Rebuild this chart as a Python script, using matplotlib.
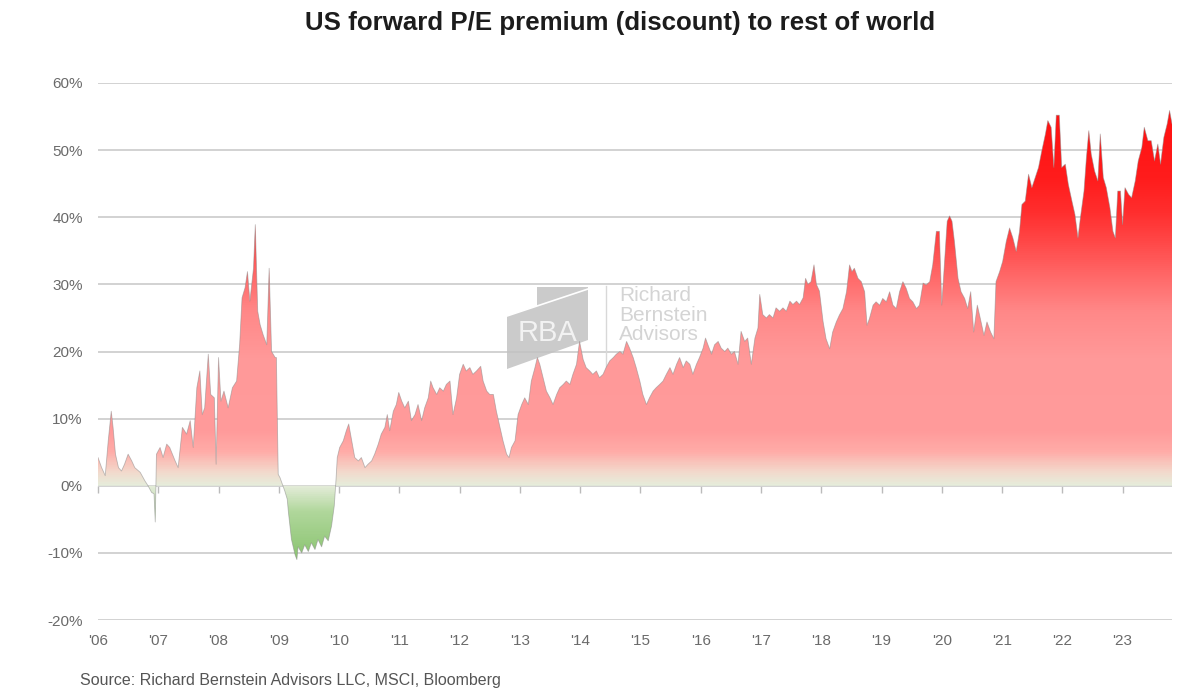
import matplotlib
matplotlib.use("Agg")
import matplotlib.pyplot as plt
import numpy as np
from matplotlib.colors import LinearSegmentedColormap, Normalize
from matplotlib.patches import PathPatch, Polygon

# ---------------- data ----------------
years = [
    2006.00, 2006.06, 2006.12, 2006.17, 2006.22, 2006.25, 2006.29, 2006.34, 2006.39, 2006.44,
    2006.50, 2006.56, 2006.61, 2006.70, 2006.78, 2006.83, 2006.89, 2006.93, 2006.95, 2006.97,
    2007.03, 2007.08, 2007.14, 2007.19, 2007.28, 2007.33, 2007.40, 2007.47, 2007.53, 2007.58,
    2007.64, 2007.69, 2007.73, 2007.77, 2007.83, 2007.87, 2007.93, 2007.96, 2008.00, 2008.04,
    2008.09, 2008.16, 2008.23, 2008.30, 2008.35, 2008.39, 2008.44, 2008.48, 2008.52, 2008.58,
    2008.61, 2008.65, 2008.69, 2008.74, 2008.80, 2008.84, 2008.88, 2008.94, 2008.96, 2008.99,
    2009.02, 2009.06, 2009.10, 2009.14, 2009.16, 2009.21, 2009.27, 2009.30, 2009.32, 2009.38,
    2009.43, 2009.49, 2009.54, 2009.60, 2009.65, 2009.71, 2009.76, 2009.82, 2009.875, 2009.92,
    2009.95, 2009.97,
    2010.01, 2010.07, 2010.12, 2010.16, 2010.21, 2010.26, 2010.32, 2010.37, 2010.43, 2010.48,
    2010.54, 2010.59, 2010.65, 2010.70, 2010.76, 2010.80, 2010.84, 2010.90, 2010.95, 2010.99,
    2011.04, 2011.09, 2011.15, 2011.20, 2011.26, 2011.31, 2011.37, 2011.42, 2011.48, 2011.52,
    2011.56, 2011.62, 2011.67, 2011.73, 2011.78, 2011.84, 2011.89, 2011.95, 2012.00, 2012.06,
    2012.11, 2012.17, 2012.22, 2012.28, 2012.35, 2012.39, 2012.45, 2012.50, 2012.56, 2012.61,
    2012.67, 2012.72, 2012.78, 2012.82, 2012.86, 2012.92, 2012.97, 2013.03, 2013.08, 2013.14,
    2013.19, 2013.25, 2013.29, 2013.33, 2013.385, 2013.44, 2013.50, 2013.55, 2013.61, 2013.66,
    2013.72, 2013.77, 2013.83, 2013.88, 2013.94, 2013.99, 2014.05,
    2014.10, 2014.16, 2014.21, 2014.27, 2014.32, 2014.38, 2014.43, 2014.49, 2014.55, 2014.60,
    2014.66, 2014.71, 2014.77, 2014.82, 2014.88, 2014.93, 2014.99, 2015.04, 2015.10, 2015.15,
    2015.21, 2015.26, 2015.32, 2015.375, 2015.43, 2015.49, 2015.54, 2015.60, 2015.65, 2015.71,
    2015.76, 2015.82, 2015.87, 2015.93, 2015.98, 2016.04, 2016.08, 2016.12, 2016.18, 2016.23,
    2016.29, 2016.34, 2016.40, 2016.45, 2016.51, 2016.56, 2016.62, 2016.67, 2016.73, 2016.78,
    2016.84, 2016.90, 2016.95, 2016.98, 2017.03, 2017.09, 2017.14, 2017.20, 2017.25, 2017.31,
    2017.365, 2017.42, 2017.48, 2017.53, 2017.59, 2017.64, 2017.70, 2017.74, 2017.78, 2017.83,
    2017.88, 2017.92, 2017.97, 2018.03,
    2018.08, 2018.14, 2018.19, 2018.25, 2018.30, 2018.36, 2018.42, 2018.47, 2018.51, 2018.55,
    2018.61, 2018.665, 2018.72, 2018.76, 2018.80, 2018.86, 2018.91, 2018.97, 2019.02, 2019.08,
    2019.135, 2019.19, 2019.245, 2019.30, 2019.355, 2019.41, 2019.465, 2019.52, 2019.58, 2019.63,
    2019.69, 2019.74, 2019.80, 2019.85, 2019.91, 2019.96, 2020.00, 2020.05, 2020.09, 2020.13,
    2020.17, 2020.21, 2020.27, 2020.32, 2020.38, 2020.43, 2020.48, 2020.53, 2020.59, 2020.64,
    2020.70, 2020.75, 2020.81, 2020.865, 2020.90, 2020.96, 2021.01, 2021.07, 2021.125, 2021.18,
    2021.235, 2021.29, 2021.33, 2021.385, 2021.44, 2021.495, 2021.55, 2021.605, 2021.66, 2021.72,
    2021.76, 2021.815, 2021.86, 2021.90, 2021.95, 2021.99, 2022.05, 2022.10, 2022.16, 2022.21,
    2022.26, 2022.30, 2022.36, 2022.40, 2022.44, 2022.48, 2022.535, 2022.59, 2022.63, 2022.68,
    2022.73, 2022.79, 2022.84, 2022.88, 2022.92, 2022.965, 2023.00, 2023.04, 2023.10, 2023.15,
    2023.21, 2023.26, 2023.32, 2023.36, 2023.42, 2023.475, 2023.53, 2023.585, 2023.63, 2023.685,
    2023.74, 2023.78, 2023.82,
]
premium = [
    4.2, 2.7, 1.5, 6.7, 11.1, 8.7, 4.7, 2.7, 2.2, 3.2,
    4.7, 3.7, 2.7, 2.0, 0.7, 0.0, -1.0, -1.2, -5.4, 4.7,
    5.7, 4.2, 6.2, 5.7, 3.7, 2.7, 8.7, 7.7, 9.7, 5.7,
    14.6, 17.1, 10.6, 11.6, 19.6, 13.6, 13.1, 3.2, 19.1, 12.6,
    14.1, 11.6, 14.6, 15.6, 21.0, 28.0, 29.5, 31.9, 27.5, 32.4,
    38.9, 26.0, 24.0, 22.5, 21.0, 32.4, 20.0, 19.1, 19.1, 1.7,
    1.2, 0.2, -0.8, -2.0, -4.0, -8.0, -10.3, -11.0, -9.1, -10.0,
    -8.8, -9.8, -8.5, -9.5, -8.0, -9.1, -7.5, -8.2, -6.0, -3.0,
    1.0, 4.2,
    5.7, 6.7, 8.2, 9.2, 6.7, 4.2, 3.7, 4.2, 2.7, 3.2,
    3.7, 4.7, 6.2, 7.7, 8.7, 10.6, 8.2, 11.1, 12.1, 13.9,
    12.6, 11.6, 12.6, 9.7, 10.6, 12.1, 9.7, 11.6, 13.1, 15.6,
    14.6, 13.6, 14.6, 14.1, 15.1, 15.6, 10.6, 13.1, 16.6, 18.1,
    17.1, 17.6, 16.6, 17.1, 17.8, 15.6, 14.1, 13.6, 13.6, 11.1,
    8.7, 6.7, 4.7, 4.2, 5.7, 6.7, 10.6, 12.1, 13.1, 12.1,
    15.6, 17.6, 19.1, 18.1, 16.1, 14.1, 13.1, 12.1, 13.6, 14.6,
    15.1, 15.6, 15.1, 16.6, 18.1, 21.5, 18.8,
    17.6, 17.1, 16.6, 17.1, 16.1, 16.6, 17.6, 18.6, 19.1, 19.6,
    20.0, 19.6, 21.5, 20.5, 19.1, 17.6, 15.6, 13.6, 12.1, 13.1,
    14.1, 14.6, 15.1, 15.6, 16.6, 17.6, 16.6, 18.1, 19.1, 17.6,
    18.6, 18.1, 16.6, 18.1, 19.1, 20.5, 22.0, 21.0, 19.6, 21.0,
    21.5, 20.5, 20.0, 20.5, 19.6, 20.0, 18.1, 23.0, 21.5, 22.0,
    18.1, 22.0, 23.5, 28.5, 25.5, 25.0, 25.5, 25.0, 26.5, 26.0,
    26.5, 26.0, 27.5, 27.0, 27.5, 27.0, 28.0, 30.9, 30.0, 30.4,
    32.9, 30.0, 29.0, 24.5,
    21.9, 20.4, 22.9, 24.4, 25.4, 26.4, 28.9, 32.9, 31.9, 32.4,
    30.9, 30.4, 28.9, 23.9, 24.9, 26.9, 27.4, 26.9, 27.9, 27.4,
    28.9, 26.9, 26.4, 28.9, 30.4, 29.4, 27.9, 27.4, 26.4, 26.9,
    30.2, 29.9, 30.4, 32.9, 37.9, 37.9, 26.9, 33.9, 39.4, 40.2,
    39.4, 36.4, 30.9, 28.9, 27.9, 26.4, 28.9, 22.9, 26.9, 24.9,
    22.4, 24.4, 22.9, 21.9, 30.4, 31.9, 33.4, 36.4, 38.4, 36.9,
    34.9, 37.9, 41.9, 42.4, 46.4, 44.4, 45.9, 47.4, 49.9, 52.4,
    54.4, 53.4, 47.4, 55.2, 55.2, 47.4, 47.9, 44.9, 42.4, 40.4,
    36.9, 39.9, 43.9, 48.9, 52.9, 49.4, 46.9, 45.4, 52.4, 45.9,
    44.4, 41.4, 37.9, 36.9, 43.9, 43.9, 38.9, 44.4, 43.4, 42.9,
    45.4, 48.4, 50.4, 53.4, 51.4, 51.4, 48.4, 50.9, 47.9, 51.9,
    53.9, 55.9, 53.9,
]
tick_years = list(range(2006, 2024))
tick_labels = ["'06", "'07", "'08", "'09", "'10", "'11", "'12", "'13", "'14",
               "'15", "'16", "'17", "'18", "'19", "'20", "'21", "'22", "'23"]
y_ticks = [-20, -10, 0, 10, 20, 30, 40, 50, 60]
y_labels = ["-20%", "-10%", "0%", "10%", "20%", "30%", "40%", "50%", "60%"]

title = "US forward P/E premium (discount) to rest of world"
source = "Source: Richard Bernstein Advisors LLC, MSCI, Bloomberg"

# ---------------- style ----------------
plt.rcParams['font.family'] = ['Liberation Sans', 'DejaVu Sans']

fig = plt.figure(figsize=(12, 6.98), dpi=100)
ax = fig.add_axes([98/1200, 1 - 620/698, (1172 - 98)/1200, (620 - 83)/698])

x = np.array(years)
y = np.array(premium)
ymin, ymax = -20, 60

# gridlines
for v in y_ticks:
    ax.axhline(v, color='#cfcfcf', lw=1.3, zorder=1)

# watermark logo (behind data)
T = ax.transAxes
def axpt(px, py):
    return ((px - 98) / 1074, (620 - py) / 537)
logo = Polygon([axpt(537, 287), axpt(588, 287), axpt(588, 340), axpt(507, 369),
                axpt(507, 316), axpt(537, 306)], closed=True, transform=T,
               facecolor='#c2c2c2', edgecolor='none', alpha=0.85, zorder=1.5)
ax.add_patch(logo)
ax.plot([axpt(507, 316)[0], axpt(588, 289)[0]], [axpt(507, 316)[1], axpt(588, 289)[1]],
        transform=T, color='white', lw=1.2, zorder=1.6)
ax.text(*axpt(547, 333), "RBA", transform=T, ha='center', va='center', fontsize=21,
        color='#f2f2f2', fontweight='light', zorder=1.7)
ax.plot([axpt(606, 286)[0]] * 2, [axpt(606, 286)[1], axpt(606, 372)[1]], transform=T,
        color='#d8d8d8', lw=1.0, zorder=1.6)

# gradient area
nodes = [(-20, '#84bf63'), (-10, '#90c777'), (-4, '#b0d79b'), (0, '#e6eddb'),
         (2, '#f3d9cc'), (5, '#ffaca8'), (8, '#ff9b9b'), (19, '#ff9999'),
         (26, '#ff8888'), (31, '#ff6a6a'), (36, '#ff4a4a'), (41, '#ff2d2d'),
         (46, '#ff1c1c'), (60, '#ff0c0c')]
cmap = LinearSegmentedColormap.from_list(
    'pe', [((v - ymin) / (ymax - ymin), c) for v, c in nodes])
grad = np.linspace(ymin, ymax, 800).reshape(-1, 1)
coll = ax.fill_between(x, y, 0, facecolor='none', edgecolor='none', lw=0)
img = ax.imshow(np.hstack([grad, grad]), extent=[x.min(), x.max(), ymin, ymax],
                origin='lower', aspect='auto', cmap=cmap,
                norm=Normalize(ymin, ymax), zorder=2, interpolation='bilinear')
clip = PathPatch(coll.get_paths()[0], transform=ax.transData, facecolor='none',
                 edgecolor='none')
ax.add_patch(clip)
img.set_clip_path(clip)
ax.plot(x, y, color='#8a8a8a', lw=0.6, alpha=0.55, zorder=2.5)
ax.set_xlim(2006.0, 2023.82)
ax.set_ylim(ymin, ymax)

# watermark text above data (semi-transparent)
ax.text(*axpt(619, 286), "Richard\nBernstein\nAdvisors", transform=T, ha='left', va='top',
        fontsize=15, color='#a0a0a0', alpha=0.45, linespacing=1.05, zorder=3)

# axes
for s in ax.spines.values():
    s.set_visible(False)
ax.set_yticks(y_ticks)
ax.set_yticklabels(y_labels)
ax.set_xticks(tick_years)
ax.set_xticklabels(tick_labels)
ax.tick_params(axis='y', length=0, pad=11, labelsize=11, labelcolor='#6a6a6a')
ax.tick_params(axis='x', length=0, pad=10, labelsize=11, labelcolor='#6a6a6a')

# small tick marks on the zero line
sec = ax.secondary_xaxis((0 - ymin) / (ymax - ymin))
sec.set_xticks(tick_years)
sec.set_xticklabels([])
sec.tick_params(axis='x', direction='out', length=5, width=1, color='#bbbbbb')
sec.spines['bottom'].set_visible(False)

fig.text(620/1200, 1 - 23/698, title, ha='center', va='center', fontsize=18.6,
         fontweight='bold', color='#1c1c1c')
fig.text(80/1200, 1 - 680/698, source, ha='left', va='center', fontsize=11.5,
         color='#555555')

fig.savefig('out.png', dpi=100)
